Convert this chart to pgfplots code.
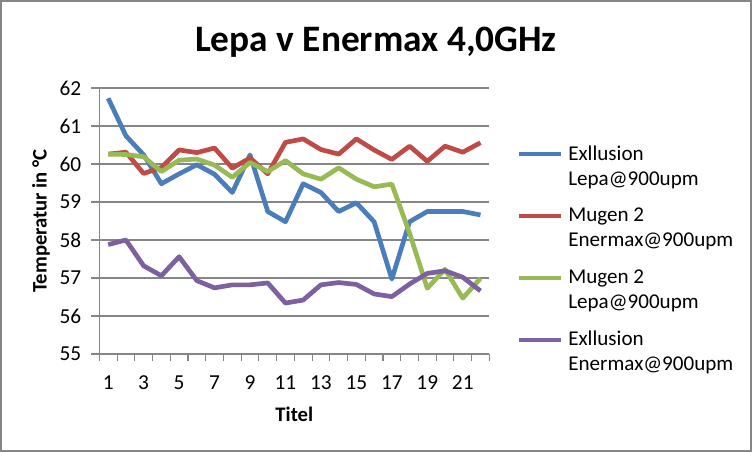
\documentclass[border=0pt]{standalone}
\usepackage{pgfplots}
\pgfplotsset{compat=1.18}
\usepackage{fontspec}
\setmainfont{Carlito}
\definecolor{cblue}{HTML}{4A7EBB}
\definecolor{cred}{HTML}{BE4B48}
\definecolor{cgreen}{HTML}{98B954}
\definecolor{cpurple}{HTML}{7D60A0}
\definecolor{axgray}{HTML}{868686}
\begin{document}
\begin{tikzpicture}
\useasboundingbox (0,0) rectangle (564pt,339pt);
\draw[axgray, line width=1.5pt] (0.75pt,0.75pt) rectangle (563.25pt,338.25pt);
\node[font=\fontsize{28}{32}\selectfont\bfseries] at (282pt,307.5pt) {Lepa v Enermax 4,0GHz};
\begin{axis}[
  at={(74.5pt,73.5pt)}, anchor=south west,
  scale only axis, width=292.5pt, height=199.5pt,
  xmin=0.5, xmax=22.5, ymin=55, ymax=62,
  axis lines*=left,
  axis line style={axgray, line width=0.8pt, -},
  xtick={1,3,...,21},
  minor xtick={0.5,1.5,...,22.5},
  major x tick style={draw=none},
  minor x tick style={axgray, line width=0.8pt},
  minor tick length=5pt,
  ytick={55,56,...,62},
  major y tick style={axgray, line width=0.8pt},
  major tick length=6pt,
  tick align=outside,
  ymajorgrids, grid style={axgray, line width=0.8pt},
  tick label style={font=\fontsize{16}{19}\selectfont},
  xticklabel style={yshift=-7pt},
  yticklabel style={xshift=-4pt},
  /pgf/number format/assume math mode=true,
  xlabel={\bfseries Titel},
  ylabel={\bfseries Temperatur in °C},
  label style={font=\fontsize{15.5}{18}\selectfont},
  xlabel style={at={(axis description cs:0.5,-0.2256)}, anchor=center},
  ylabel style={at={(axis description cs:-0.1495,0.5)}, anchor=center},
  legend style={draw=none, fill=none, at={(1.06,0.795)}, anchor=north west,
    font=\fontsize{15.8}{18.75}\selectfont,
    nodes={align=left, inner sep=0pt, inner xsep=4pt},
    row sep=15.6pt},
  legend cell align=left,
  legend image code/.code={\draw[#1, line width=3pt] (0pt,9pt) -- (31.5pt,9pt);},
  every axis plot/.append style={line width=3.5pt, line join=round, mark=none},
  clip=false,
]
\addplot[cblue] coordinates {(1,61.73) (2,60.74) (3,60.24) (4,59.48) (5,59.74) (6,59.98) (7,59.73) (8,59.25) (9,60.24) (10,58.75) (11,58.48) (12,59.48) (13,59.25) (14,58.75) (15,58.98) (16,58.48) (17,56.97) (18,58.48) (19,58.75) (20,58.75) (21,58.75) (22,58.66)};
\addlegendentry{Exllusion\\Lepa@900upm}
\addplot[cred] coordinates {(1,60.26) (2,60.31) (3,59.75) (4,59.91) (5,60.37) (6,60.30) (7,60.42) (8,59.89) (9,60.16) (10,59.74) (11,60.57) (12,60.66) (13,60.38) (14,60.26) (15,60.66) (16,60.37) (17,60.12) (18,60.47) (19,60.07) (20,60.47) (21,60.31) (22,60.56)};
\addlegendentry{Mugen 2\\Enermax@900upm}
\addplot[cgreen] coordinates {(1,60.26) (2,60.25) (3,60.19) (4,59.80) (5,60.10) (6,60.13) (7,59.97) (8,59.65) (9,60.04) (10,59.80) (11,60.09) (12,59.74) (13,59.60) (14,59.90) (15,59.60) (16,59.40) (17,59.47) (18,58.18) (19,56.73) (20,57.23) (21,56.47) (22,56.99)};
\addlegendentry{Mugen 2\\Lepa@900upm}
\addplot[cpurple] coordinates {(1,57.88) (2,58.00) (3,57.32) (4,57.06) (5,57.56) (6,56.93) (7,56.74) (8,56.82) (9,56.82) (10,56.87) (11,56.34) (12,56.42) (13,56.82) (14,56.88) (15,56.83) (16,56.58) (17,56.51) (18,56.84) (19,57.12) (20,57.19) (21,57.02) (22,56.66)};
\addlegendentry{Exllusion\\Enermax@900upm}
\end{axis}
\end{tikzpicture}
\end{document}
